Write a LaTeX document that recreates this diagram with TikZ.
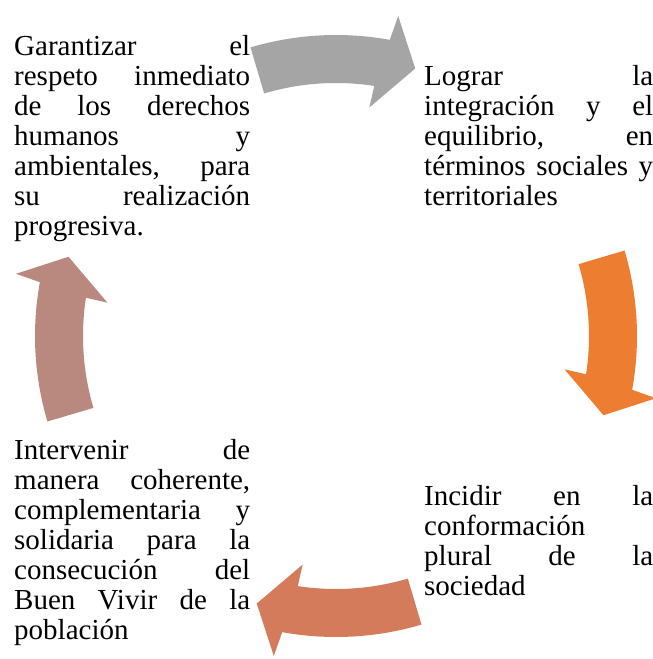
\documentclass[tikz,border=0pt]{standalone}
\usepackage{fontspec}
\setmainfont{Liberation Serif}
\definecolor{arrgray}{HTML}{A5A5A5}
\definecolor{arrorange}{HTML}{ED7D31}
\definecolor{arrsalmon}{HTML}{D47B5C}
\definecolor{arrrose}{HTML}{B9897F}
\newcommand{\justline}[1]{\makebox[\linewidth][s]{#1}\par}
\newcommand{\plainline}[1]{#1\par}
\newcommand{\cycarrow}[2]{%
  \fill[#2] (#1:301pt) arc[start angle=#1, end angle=#1-26.8, radius=301pt]
    -- (#1-27.5:326pt) -- (#1-33:279pt) -- (#1-24.8:231pt) -- (#1-25.2:253pt)
    arc[start angle=#1-25.2, end angle=#1, radius=253pt] -- cycle;}
\tikzset{
  txt/.style={inner sep=0pt, anchor=base west, font=\fontsize{29}{30}\selectfont},
}
\begin{document}
\begin{tikzpicture}[x=1pt,y=1pt]
\useasboundingbox (0,0) rectangle (653,-659);
\node[txt] (tl) at (14,-55) {\begin{minipage}[t]{236pt}\fontsize{29}{30}\selectfont
\justline{Garantizar el}
\justline{respeto inmediato}
\justline{de los derechos}
\justline{humanos y}
\justline{ambientales, para}
\justline{su realización}
\plainline{progresiva.}
\end{minipage}};
\node[txt] (tr) at (424,-85) {\begin{minipage}[t]{229pt}\fontsize{29}{30}\selectfont
\justline{Lograr la}
\justline{integración y el}
\justline{equilibrio, en}
\justline{términos sociales y}
\plainline{territoriales}
\end{minipage}};
\node[txt] (br) at (424,-505) {\begin{minipage}[t]{229pt}\fontsize{29}{30}\selectfont
\justline{Incidir en la}
\plainline{conformación}
\justline{plural de la}
\plainline{sociedad}
\end{minipage}};
\node[txt] (bl) at (14,-459) {\begin{minipage}[t]{236pt}\fontsize{29}{30}\selectfont
\justline{Intervenir de}
\justline{manera coherente,}
\justline{complementaria y}
\justline{solidaria para la}
\justline{consecución del}
\justline{Buen Vivir de la}
\plainline{población}
\end{minipage}};
\begin{scope}[shift={(336,-336)}]
\cycarrow{106.5}{arrgray}
\cycarrow{16.5}{arrorange}
\cycarrow{-73.5}{arrsalmon}
\cycarrow{196.5}{arrrose}
\end{scope}
\end{tikzpicture}
\end{document}
